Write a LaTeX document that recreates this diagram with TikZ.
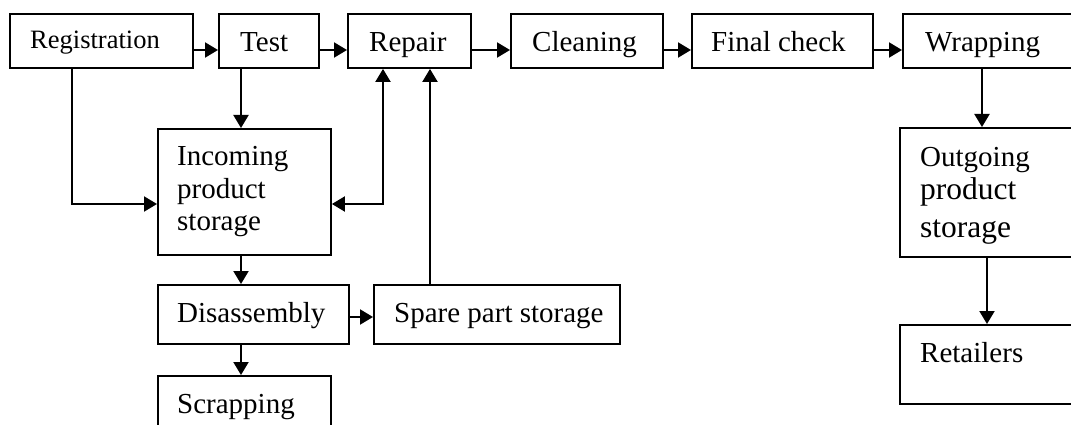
\documentclass[tikz,border=0pt]{standalone}
\usepackage{fontspec}
\setmainfont{Liberation Serif}
\usetikzlibrary{arrows.meta}
\tikzset{
  box/.style={draw, line width=1.9pt, rectangle, inner sep=0pt, anchor=north west},
  lbl/.style={inner sep=0pt, anchor=base west, font=\fontsize{29}{29}\selectfont},
  lblsmall/.style={lbl, font=\fontsize{26.5}{26.5}\selectfont},
  lblbig/.style={lbl, font=\fontsize{31.5}{31.5}\selectfont},
  arr/.style={line width=2.1pt, -{Triangle[length=13pt,width=15pt]}},
  darr/.style={line width=2.1pt, {Triangle[length=13pt,width=15pt]}-{Triangle[length=13pt,width=15pt]}}
}
\begin{document}
\begin{tikzpicture}[x=1pt,y=-1pt]
\useasboundingbox (0,0) rectangle (1071,425);
\clip (0,0) rectangle (1071,425);
% boxes
\node[box, minimum width=183pt, minimum height=54pt] (reg) at (9,13) {};
\node[box, minimum width=100pt, minimum height=54pt] (test) at (218,13) {};
\node[box, minimum width=123pt, minimum height=54pt] (rep) at (347,13) {};
\node[box, minimum width=152pt, minimum height=54pt] (cln) at (510,13) {};
\node[box, minimum width=181pt, minimum height=54pt] (fin) at (691,13) {};
\node[box, minimum width=185pt, minimum height=54pt] (wrap) at (902,13) {};
\node[box, minimum width=173pt, minimum height=126pt] (inc) at (157,128) {};
\node[box, minimum width=191pt, minimum height=59pt] (dis) at (157,284) {};
\node[box, minimum width=173pt, minimum height=65pt] (scrap) at (157,375) {};
\node[box, minimum width=246pt, minimum height=59pt] (spare) at (373,284) {};
\node[box, minimum width=190pt, minimum height=129pt] (out) at (899,127) {};
\node[box, minimum width=190pt, minimum height=79pt] (ret) at (899,324) {};
% labels
\node[lblsmall] (treg) at (30,49) {Registration};
\node[lbl] (ttest) at (240,52) {Test};
\node[lbl] (trep) at (369,52) {Repair};
\node[lbl] (tcln) at (532,52) {Cleaning};
\node[lbl] (tfin) at (711,52) {Final check};
\node[lbl] (twrap) at (925,52) {Wrapping};
\node[lbl] (tinc1) at (177,166) {Incoming};
\node[lbl] (tinc2) at (177,198) {product};
\node[lbl] (tinc3) at (177,230) {storage};
\node[lbl] (tdis) at (177,322) {Disassembly};
\node[lbl] (tscrap) at (177,413) {Scrapping};
\node[lbl] (tspare) at (394,322) {Spare part storage};
\node[lbl] (tout1) at (920,167) {Outgoing};
\node[lblbig] (tout2) at (920,200) {product};
\node[lblbig] (tout3) at (920,237) {storage};
\node[lbl] (tret) at (920,362) {Retailers};
% helper coordinates
\coordinate (row) at (0,50);
\coordinate (low) at (72,204);
\coordinate (tx) at (241,0);
\coordinate (rx) at (383,204);
\coordinate (sx) at (430,0);
\coordinate (dy) at (0,317);
\coordinate (wx) at (982,0);
\coordinate (ox) at (987,0);
% connectors
\draw[arr] (reg.east |- row) -- (test.west |- row);
\draw[arr] (test.east |- row) -- (rep.west |- row);
\draw[arr] (rep.east |- row) -- (cln.west |- row);
\draw[arr] (cln.east |- row) -- (fin.west |- row);
\draw[arr] (fin.east |- row) -- (wrap.west |- row);
\draw[arr] (reg.south -| low) |- (inc.west |- low);
\draw[arr] (test.south -| tx) -- (inc.north -| tx);
\draw[darr] (rep.south -| rx) |- (inc.east |- rx);
\draw[arr] (spare.north -| sx) -- (rep.south -| sx);
\draw[arr] (inc.south -| tx) -- (dis.north -| tx);
\draw[arr] (dis.south -| tx) -- (scrap.north -| tx);
\draw[arr] (dis.east |- dy) -- (spare.west |- dy);
\draw[arr] (wrap.south -| wx) -- (out.north -| wx);
\draw[arr] (out.south -| ox) -- (ret.north -| ox);
\end{tikzpicture}
\end{document}
